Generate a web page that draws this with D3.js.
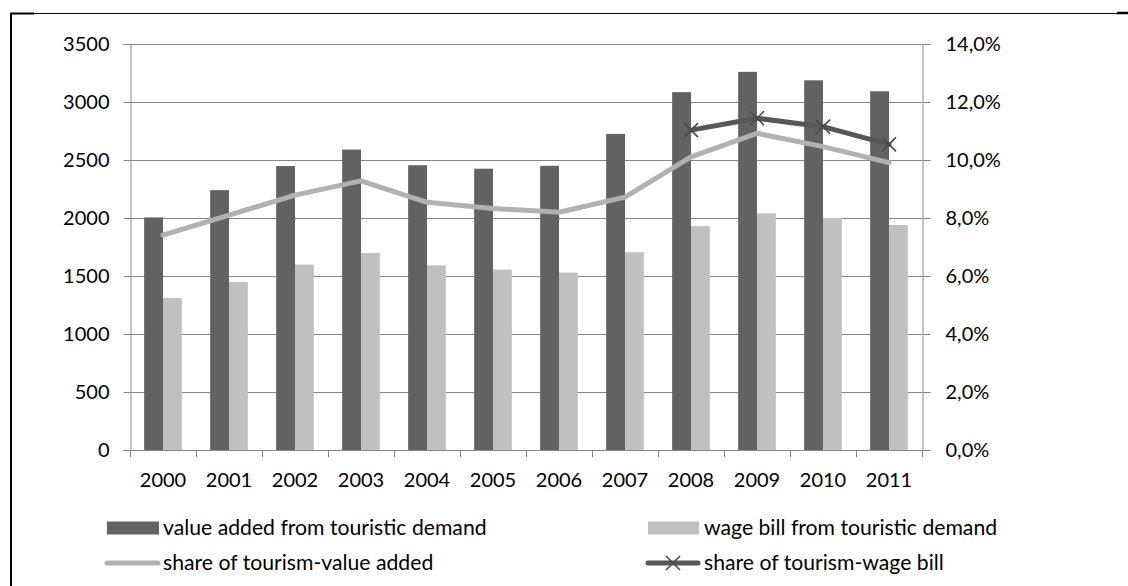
<!DOCTYPE html>
<html><head><meta charset="utf-8">
<script src="https://cdn.jsdelivr.net/npm/d3@7"></script>
<style>body{margin:0;background:#fff}svg{display:block}text{font-family:Lato,"Open Sans",sans-serif;fill:#000}</style>
</head><body>
<svg id="c" width="1128" height="586"></svg>
<script>
const years = ["2000","2001","2002","2003","2004","2005","2006","2007","2008","2009","2010","2011"];
const valueAdded = [2005,2240,2448,2590,2455,2425,2450,2725,3085,3260,3187,3092];
const wageBill = [1310,1448,1598,1698,1592,1555,1530,1705,1930,2040,2000,1940];
const shareVA = [7.41,8.1,8.79,9.28,8.54,8.33,8.2,8.72,10.11,10.92,10.46,9.91];
const shareWageYears = ["2008","2009","2010","2011"];
const shareWage = [11.03,11.44,11.15,10.54];
const leftTicks = [0,500,1000,1500,2000,2500,3000,3500];
const rightTicks = [0,2,4,6,8,10,12,14];
const legendLabels = ["value added from touristic demand","wage bill from touristic demand","share of tourism-value added","share of tourism-wage bill"];

const svg = d3.select("#c");
const L = 130, R = 922, T = 44, B = 450;
const fs = 20, lfs = 21.2;
const gridC = "#868686";
const darkC = "#626262", lightC = "#c0c0c0", vaLineC = "#b1b1b1", wLineC = "#575757";

// frame
svg.append("line").attr("x1",10).attr("x2",1118).attr("y1",13.5).attr("y2",13.5).attr("stroke","#000").attr("stroke-width",1.2);
svg.append("line").attr("x1",10).attr("x2",34).attr("y1",13.5).attr("y2",13.5).attr("stroke","#000").attr("stroke-width",2);
svg.append("line").attr("x1",1117).attr("x2",1128).attr("y1",13).attr("y2",13).attr("stroke","#000").attr("stroke-width",2.5);
svg.append("line").attr("x1",11).attr("x2",11).attr("y1",13).attr("y2",586).attr("stroke","#000").attr("stroke-width",2);

const x = d3.scaleBand().domain(years).range([L,R]).paddingInner(0).paddingOuter(0);
const yL = d3.scaleLinear().domain([0,3500]).range([B,T]);
const yR = d3.scaleLinear().domain([0,14]).range([B,T]);

// gridlines
svg.append("g").selectAll("line").data(leftTicks.filter(d=>d>0)).join("line")
  .attr("x1",L).attr("x2",R).attr("y1",d=>Math.round(yL(d))+0.5).attr("y2",d=>Math.round(yL(d))+0.5)
  .attr("stroke",gridC).attr("stroke-width",1);

// bars
const bw = x.bandwidth()/ (2+1.5);
const off = (x.bandwidth()-2*bw)/2;
svg.append("g").selectAll("rect").data(years).join("rect")
  .attr("x",(d)=>x(d)+off).attr("width",bw)
  .attr("y",(d,i)=>yL(valueAdded[i])).attr("height",(d,i)=>B-yL(valueAdded[i])).attr("fill",darkC);
svg.append("g").selectAll("rect").data(years).join("rect")
  .attr("x",(d)=>x(d)+off+bw).attr("width",bw)
  .attr("y",(d,i)=>yL(wageBill[i])).attr("height",(d,i)=>B-yL(wageBill[i])).attr("fill",lightC);

// axes
const gl = svg.append("g").attr("transform",`translate(${L+0.5},0)`)
  .call(d3.axisLeft(yL).tickValues(leftTicks).tickSize(7).tickPadding(14).tickFormat(d3.format("d")));
const gr = svg.append("g").attr("transform",`translate(${R+0.5},0)`)
  .call(d3.axisRight(yR).tickValues(rightTicks).tickSize(8).tickPadding(15).tickFormat(d=>d.toFixed(1).replace(".",",")+"%"));
const gb = svg.append("g").attr("transform",`translate(0,${B+0.5})`)
  .call(d3.axisBottom(x).tickSize(0).tickPadding(22));
[gl,gr,gb].forEach(g=>{
  g.select(".domain").attr("stroke",gridC);
  g.selectAll(".tick line").attr("stroke",gridC);
  g.selectAll("text").attr("font-size",fs).attr("font-family","Lato").attr("fill","#000");
});
gb.select(".domain").attr("d",`M${L},0H${R}`);
// category separator ticks
svg.append("g").selectAll("line").data(d3.range(years.length+1)).join("line")
  .attr("x1",i=>Math.round(L + i*x.step())+0.5).attr("x2",i=>Math.round(L + i*x.step())+0.5)
  .attr("y1",B).attr("y2",B+7).attr("stroke",gridC);

// lines
const cx = d=>x(d)+x.bandwidth()/2;
svg.append("path").datum(years.map((d,i)=>[cx(d),yR(shareVA[i])]))
  .attr("d",d3.line()).attr("fill","none").attr("stroke",vaLineC).attr("stroke-width",5).attr("stroke-linecap","round").attr("stroke-linejoin","round");
const wPts = shareWageYears.map((d,i)=>[cx(d),yR(shareWage[i])]);
svg.append("path").datum(wPts).attr("d",d3.line()).attr("fill","none").attr("stroke",wLineC).attr("stroke-width",5).attr("stroke-linecap","round").attr("stroke-linejoin","round");
const ms = 7;
svg.append("g").selectAll("path").data(wPts).join("path")
  .attr("d",p=>`M${p[0]-ms},${p[1]-ms}L${p[0]+ms},${p[1]+ms}M${p[0]-ms},${p[1]+ms}L${p[0]+ms},${p[1]-ms}`)
  .attr("stroke","#4a4a4a").attr("stroke-width",1.6).attr("fill","none");

// legend
const lg = svg.append("g");
const r1 = 528, r2 = 563;
lg.append("rect").attr("x",107).attr("y",r1-6.5).attr("width",52).attr("height",13).attr("fill",darkC);
lg.append("text").attr("x",163).attr("y",r1).attr("dy","0.35em").attr("font-size",lfs).text(legendLabels[0]);
lg.append("rect").attr("x",648).attr("y",r1-6.5).attr("width",51).attr("height",13).attr("fill",lightC);
lg.append("text").attr("x",704).attr("y",r1).attr("dy","0.35em").attr("font-size",lfs).text(legendLabels[1]);
lg.append("line").attr("x1",107).attr("x2",158).attr("y1",r2).attr("y2",r2).attr("stroke",vaLineC).attr("stroke-width",5).attr("stroke-linecap","round");
lg.append("text").attr("x",163).attr("y",r2).attr("dy","0.35em").attr("font-size",lfs).text(legendLabels[2]);
lg.append("line").attr("x1",648).attr("x2",698).attr("y1",r2).attr("y2",r2).attr("stroke",wLineC).attr("stroke-width",5).attr("stroke-linecap","round");
lg.append("path").attr("d",`M${673-ms},${r2-ms}L${673+ms},${r2+ms}M${673-ms},${r2+ms}L${673+ms},${r2-ms}`).attr("stroke","#4a4a4a").attr("stroke-width",1.6);
lg.append("text").attr("x",704).attr("y",r2).attr("dy","0.35em").attr("font-size",lfs).text(legendLabels[3]);
</script>
</body></html>
